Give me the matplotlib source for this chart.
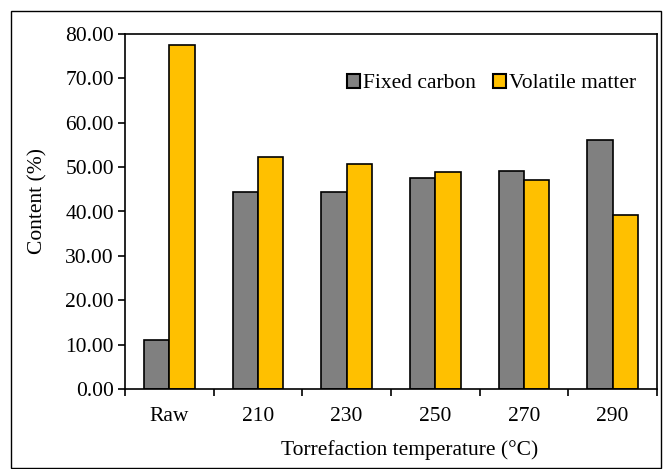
import matplotlib
matplotlib.use("Agg")
import matplotlib.pyplot as plt
import numpy as np
from matplotlib.patches import Rectangle

categories = ["Raw", "210", "230", "250", "270", "290"]
fixed_carbon = [11.0, 44.3, 44.4, 47.5, 49.1, 56.2]
volatile_matter = [77.5, 52.2, 50.7, 48.9, 47.0, 39.3]
yticks = [0, 10, 20, 30, 40, 50, 60, 70, 80]

plt.rcParams['font.family'] = ['Liberation Serif', 'DejaVu Serif']
FS = 15.5

fig = plt.figure(figsize=(6.63, 4.69), dpi=100)
ax = fig.add_axes([125/663, 1-389/469, (657-125)/663, (389-34)/469])

x = np.arange(len(categories))
w = 2/7
ax.bar(x - w/2, fixed_carbon, width=w, color="#808080", edgecolor="black", linewidth=1.2, label="Fixed carbon")
ax.bar(x + w/2, volatile_matter, width=w, color="#FFC000", edgecolor="black", linewidth=1.2, label="Volatile matter")

ax.set_xlim(-0.5, len(categories)-0.5)
ax.set_ylim(0, 80)
ax.set_yticks(yticks)
ax.set_yticklabels([f"{v:.2f}" for v in yticks], fontsize=FS)
ax.set_xticks(x)
ax.set_xticklabels(categories, fontsize=FS)
ax.tick_params(axis='x', length=0, pad=13)
ax.set_xticks(np.arange(len(categories)+1) - 0.5, minor=True)
ax.tick_params(axis='x', which='minor', length=5, width=1.2, direction='out')
ax.tick_params(axis='y', length=5, width=1.2, direction='out', pad=3)
for s in ax.spines.values():
    s.set_linewidth(1.2)

ax.set_ylabel("Content (%)", fontsize=FS)
ax.yaxis.set_label_coords(-0.145, 0.53)
ax.set_xlabel("Torrefaction temperature (°C)", fontsize=FS)
ax.xaxis.set_label_coords(0.535, -0.145)

leg = ax.legend(loc="upper right", bbox_to_anchor=(0.99, 0.93), ncol=2, frameon=False,
                fontsize=FS, handlelength=0.6, handleheight=0.6, handletextpad=0.15,
                columnspacing=0.8, borderaxespad=0.3)
for h in leg.legend_handles:
    h.set_linewidth(1.5)

fig.patches.append(Rectangle((11/663, 0.003), 1 - 11/663 - 0.003, 1 - 11/469 - 0.003,
                             transform=fig.transFigure, fill=False, edgecolor="black",
                             linewidth=1.0))

fig.savefig("out.png", dpi=100)
